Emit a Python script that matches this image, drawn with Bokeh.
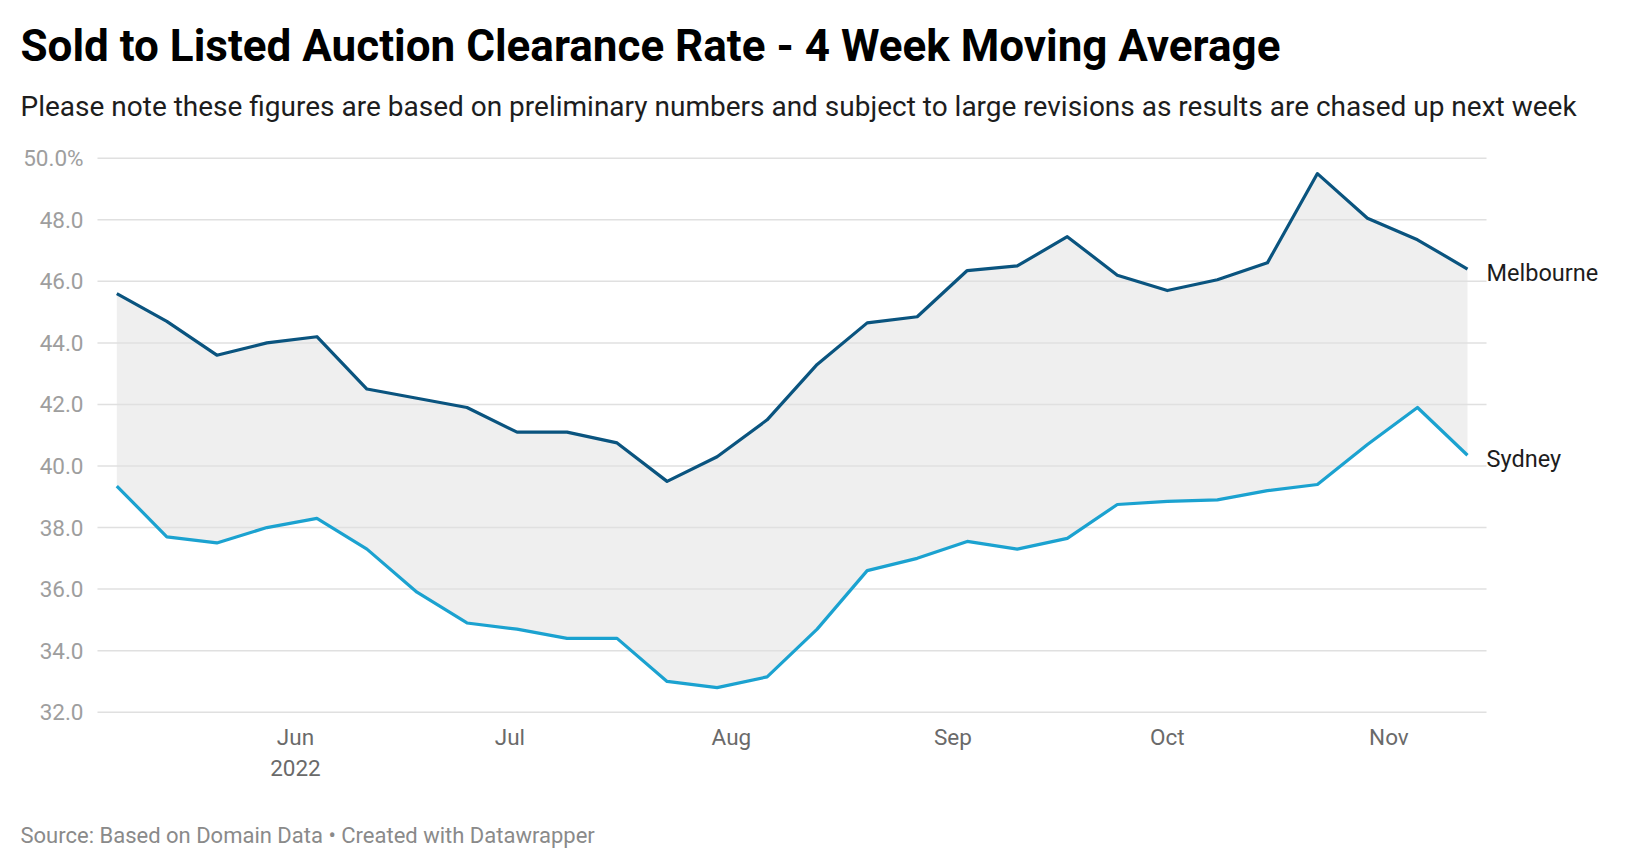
import pandas as pd
from bokeh.plotting import figure
from bokeh.models import Range1d, Label
from bokeh.core.properties import value
from bokeh.embed import file_html
from bokeh.resources import INLINE

weeks = pd.date_range("2022-05-07", periods=28, freq="7D")
melbourne = [45.6, 44.7, 43.6, 44.0, 44.2, 42.5, 42.2, 41.9, 41.1, 41.1, 40.75, 39.5,
             40.3, 41.5, 43.3, 44.65, 44.85, 46.35, 46.5, 47.45, 46.2, 45.7, 46.05,
             46.6, 49.5, 48.05, 47.35, 46.4]
sydney = [39.35, 37.7, 37.5, 38.0, 38.3, 37.3, 35.9, 34.9, 34.7, 34.4, 34.4, 33.0,
          32.8, 33.15, 34.7, 36.6, 37.0, 37.55, 37.3, 37.65, 38.75, 38.85, 38.9,
          39.2, 39.4, 40.7, 41.9, 40.35]
y_ticks = [32, 34, 36, 38, 40, 42, 44, 46, 48, 50]
y_tick_labels = ["32.0", "34.0", "36.0", "38.0", "40.0", "42.0", "44.0", "46.0", "48.0", "50.0%"]
month_starts = pd.to_datetime(["2022-06-01", "2022-07-01", "2022-08-01",
                               "2022-09-01", "2022-10-01", "2022-11-01"])
month_labels = ["Jun", "Jul", "Aug", "Sep", "Oct", "Nov"]
year_label = "2022"
series_names = ["Melbourne", "Sydney"]

title = "Sold to Listed Auction Clearance Rate - 4 Week Moving Average"
subtitle = ("Please note these figures are based on preliminary numbers and subject to "
            "large revisions as results are chased up next week")
source = "Source: Based on Domain Data \u2022 Created with Datawrapper"

FONT = value("Roboto")
W, H = 1640, 868

# ---- layout in canvas pixels (from top-left) ----
X_FIRST_PX, X_LAST_PX = 116.3, 1467.0      # where first / last week sit
GRID_X0_PX, GRID_X1_PX = 97.0, 1486.0
Y50_PX, PPU = 157.7, 30.78                 # pixel of 50.0 and pixels per unit
ppd = (X_LAST_PX - X_FIRST_PX) / ((weeks[-1] - weeks[0]).days)
x_start = weeks[0] - pd.Timedelta(days=X_FIRST_PX / ppd)
x_end = weeks[0] + pd.Timedelta(days=(W - X_FIRST_PX) / ppd)
y_top = 50 + Y50_PX / PPU
y_bottom = y_top - H / PPU


def px_x(px):
    return x_start + pd.Timedelta(days=px / ppd)


def px_y(py):
    return y_top - py / PPU


p = figure(width=W, height=H, x_axis_type="datetime", output_backend="svg",
           toolbar_location=None, x_axis_location=None, y_axis_location=None,
           x_range=Range1d(x_start, x_end), y_range=Range1d(y_bottom, y_top),
           min_border=0)
p.outline_line_color = None
p.grid.visible = False
p.background_fill_color = "white"
p.border_fill_color = "white"

# band between the two series
p.varea(x=weeks, y1=sydney, y2=melbourne, color="#efefef")

# horizontal gridlines
p.segment(x0=[px_x(GRID_X0_PX)] * len(y_ticks), x1=[px_x(GRID_X1_PX)] * len(y_ticks),
          y0=y_ticks, y1=y_ticks, line_color="#e0e0e0", line_width=1.5)

# series lines
p.line(weeks, melbourne, line_color="#0a547f", line_width=3.2, line_join="round")
p.line(weeks, sydney, line_color="#1ba2d0", line_width=3.2, line_join="round")

# y tick labels (text centred on gridline)
p.text(x=[px_x(83)] * len(y_ticks), y=y_ticks, text=y_tick_labels,
       text_align="right", text_baseline="alphabetic", text_font=FONT,
       text_font_size="22.5px", text_color="#9e9e9e")

# x tick labels
p.text(x=month_starts, y=[px_y(736.5)] * len(month_starts), text=month_labels,
       text_align="center", text_baseline="alphabetic", text_font=FONT,
       text_font_size="22.5px", text_color="#6a6a6a")
p.text(x=[month_starts[0]], y=[px_y(767.5)], text=[year_label],
       text_align="center", text_baseline="alphabetic", text_font=FONT,
       text_font_size="22.5px", text_color="#6a6a6a")

# series labels
p.text(x=[weeks[-1], weeks[-1]],
       y=[melbourne[-1] - 3.5 / PPU, sydney[-1] - 3.5 / PPU],
       text=series_names, x_offset=19, text_align="left", text_baseline="alphabetic",
       text_font=FONT, text_font_size="23.5px", text_color="#1d1d1d")

# title, subtitle, source (screen units, origin bottom-left of canvas)
p.add_layout(Label(x=20, y=H - 45, x_units="screen", y_units="screen", text=title,
                   text_baseline="alphabetic", text_font="Roboto", text_font_size="44px",
                   text_font_style="bold", text_color="#000000"))
p.add_layout(Label(x=20, y=H - 106, x_units="screen", y_units="screen", text=subtitle,
                   text_baseline="alphabetic", text_font="Roboto", text_font_size="28px",
                   text_color="#1d1d1d"))
p.add_layout(Label(x=20, y=H - 834.5, x_units="screen", y_units="screen", text=source,
                   text_baseline="alphabetic", text_font="Roboto", text_font_size="22px",
                   text_color="#8a8a8a"))

open("out.html", "w").write(file_html(p, INLINE))
